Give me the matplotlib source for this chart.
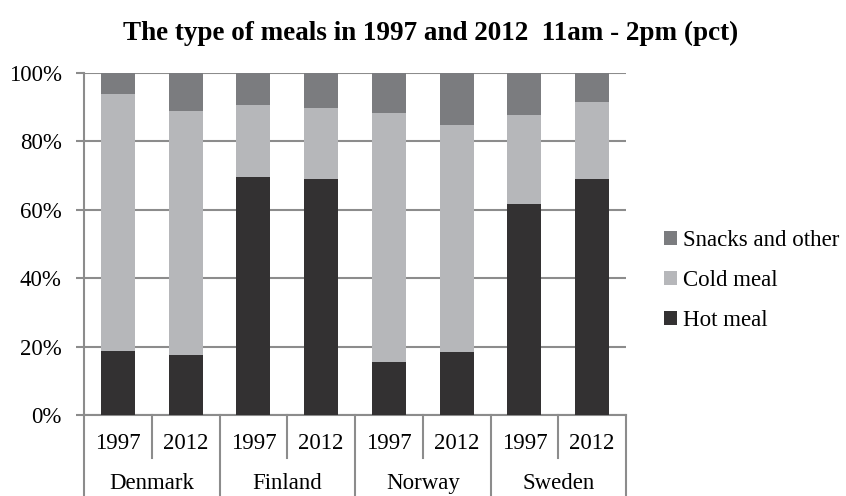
import numpy as np
import matplotlib.pyplot as plt
from matplotlib.lines import Line2D

countries = ['Denmark', 'Finland', 'Norway', 'Sweden']
years = ['1997', '2012']
hot_meal = [18.8, 17.4, 69.7, 69.1, 15.6, 18.3, 61.7, 69.1]
cold_meal = [74.9, 71.5, 20.9, 20.5, 72.8, 66.5, 26.0, 22.5]
snacks = [6.3, 11.1, 9.4, 10.4, 11.6, 15.2, 12.3, 8.4]

plt.rcParams['font.family'] = ['Liberation Serif', 'DejaVu Serif']
fs = 16.5
grey = '#8c8c8c'

fig = plt.figure(figsize=(8.46, 4.96), dpi=100)
ax = fig.add_axes([0.0993, 0.1633, 0.6407, 0.6897])

x = np.arange(len(hot_meal))
hot = np.array(hot_meal)
cold = np.array(cold_meal)
snk = np.array(snacks)
ax.bar(x, hot, width=0.5, color='#333132', label='Hot meal', zorder=3)
ax.bar(x, cold, width=0.5, bottom=hot, color='#b6b7ba', label='Cold meal', zorder=3)
ax.bar(x, snk, width=0.5, bottom=hot + cold, color='#7b7c7f', label='Snacks and other', zorder=3)

ax.set_xlim(-0.5, len(x) - 0.5)
ax.set_ylim(0, 100)
ax.set_yticks(range(0, 101, 20))
ax.set_yticklabels([f'{v}%' for v in range(0, 101, 20)], fontsize=fs)
ax.yaxis.grid(True, color=grey, linewidth=1.5, zorder=0)
ax.tick_params(axis='y', length=6, width=1.5, color=grey, pad=10)
ax.set_xticks([])
for s in ['right', 'top']:
    ax.spines[s].set_visible(False)
for s in ['left', 'bottom']:
    ax.spines[s].set_color(grey)
    ax.spines[s].set_linewidth(1.5)

# two-level category labels
trans = ax.get_xaxis_transform()
for i in range(len(x)):
    ax.text(i, -0.082, years[i % 2], transform=trans, ha='center', va='center', fontsize=fs)
for g, c in enumerate(countries):
    ax.text(2 * g + 0.5, -0.2, c, transform=trans, ha='center', va='center', fontsize=fs)
for b in range(len(x) + 1):
    bottom = -0.25 if b % 2 == 0 else -0.126
    ax.add_line(Line2D([b - 0.5, b - 0.5], [0, bottom], transform=trans,
                       color=grey, linewidth=1.5, clip_on=False))

fig.text(0.509, 0.933, 'The type of meals in 1997 and 2012  11am - 2pm (pct)',
         ha='center', va='center', fontsize=19.5, fontweight='bold')

handles, labels = ax.get_legend_handles_labels()
fig.legend(handles[::-1], labels[::-1], loc='center left', bbox_to_anchor=(0.785, 0.435),
           frameon=False, fontsize=fs, handlelength=0.57, handleheight=0.57,
           handletextpad=0.26, labelspacing=0.83, borderpad=0, borderaxespad=0)

fig.savefig('out.png', dpi=100)
